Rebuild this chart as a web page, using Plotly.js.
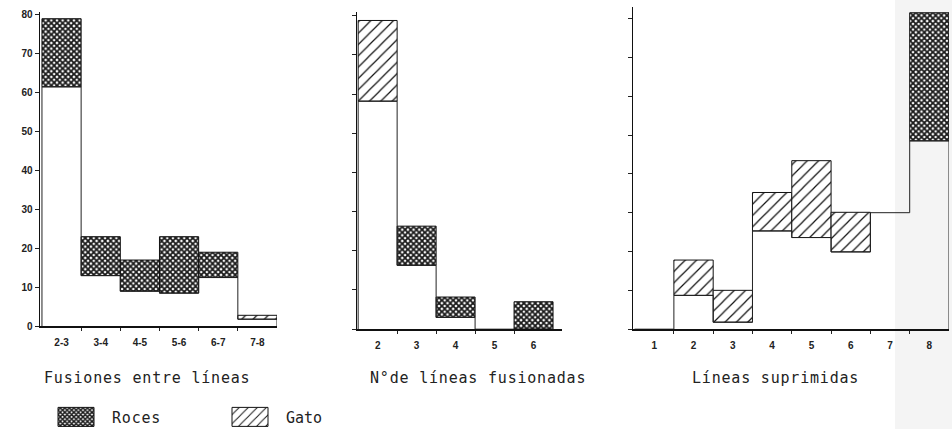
<!DOCTYPE html>
<html><head><meta charset="utf-8">
<script src="https://cdn.plot.ly/plotly-3.0.1.min.js"></script>
<style>
html,body{margin:0;padding:0;background:#fff;}
#chart{width:952px;height:434px;}
.annotation-text, .legendtext { letter-spacing: 0.8px; }
</style></head><body><div id="chart"></div>
<script>
// Panel 1: Fusiones entre líneas
const fusionesCats  = ['2-3','3-4','4-5','5-6','6-7','7-8'];
const fusionesRoces = [79, 23, 17, 23, 19, 1.8];
const fusionesGato  = [61.5, 13, 9, 8.5, 12.5, 2.8];
// Panel 2: N°de líneas fusionadas
const fusionadasCats  = ['2','3','4','5','6'];
const fusionadasRoces = [58.2, 26.3, 8.2, 0, 7];
const fusionadasGato  = [78.8, 16.3, 3, 0, 0];
// Panel 3: Líneas suprimidas
const suprimidasCats  = ['1','2','3','4','5','6','7','8'];
const suprimidasRoces = [0, 8.7, 1.8, 25.3, 23.6, 19.9, 30, 81.5];
const suprimidasGato  = [0, 17.8, 10, 35.2, 43.4, 30.1, 30, 48.5];
const yTickVals = [0,10,20,30,40,50,60,70,80];
const panelTitles = ['Fusiones entre líneas','N°de líneas fusionadas','Líneas suprimidas'];
const seriesNames = ['Roces','Gato'];

const W = 952, H = 434;
const px = v => v / W;
const py = v => (H - v) / H;

const rocesPattern = {shape: 'x', bgcolor: '#ffffff', fgcolor: '#1a1a1a', size: 4, solidity: 0.7};
const gatoPattern  = {shape: '/', bgcolor: '#ffffff', fgcolor: '#111111', size: 8, solidity: 0.15};

const traces = [];
function addPanel(n, cats, roces, gato) {
  const idx = cats.map((_, i) => i);
  const xa = n === 1 ? 'x' : 'x' + n, ya = n === 1 ? 'y' : 'y' + n;
  traces.push({
    type: 'bar', name: seriesNames[0], x: idx,
    base: idx.map(i => roces[i] > gato[i] ? gato[i] : null),
    y: idx.map(i => roces[i] > gato[i] ? roces[i] - gato[i] : null),
    width: 1, xaxis: xa, yaxis: ya,
    marker: {color: '#ffffff', pattern: rocesPattern, line: {color: '#111', width: 1}},
    showlegend: n === 1, legend: 'legend', legendgroup: 'r', hoverinfo: 'skip'
  });
  traces.push({
    type: 'bar', name: seriesNames[1], x: idx,
    base: idx.map(i => gato[i] > roces[i] ? roces[i] : null),
    y: idx.map(i => gato[i] > roces[i] ? gato[i] - roces[i] : null),
    width: 1, xaxis: xa, yaxis: ya,
    marker: {color: '#ffffff', pattern: gatoPattern, line: {color: '#111', width: 1}},
    showlegend: n === 1, legend: 'legend2', legendgroup: 'g', hoverinfo: 'skip'
  });
  // step outline following the lower of the two values
  const sx = [-0.5], sy = [0];
  idx.forEach(i => {
    const lo = Math.min(roces[i], gato[i]);
    sx.push(i - 0.5, i + 0.5); sy.push(lo, lo);
  });
  sx.push(cats.length - 0.5); sy.push(0);
  traces.push({type: 'scatter', mode: 'lines', x: sx, y: sy, xaxis: xa, yaxis: ya,
    line: {color: '#222', width: 1}, showlegend: false, hoverinfo: 'skip', cliponaxis: false});
}
addPanel(1, fusionesCats, fusionesRoces, fusionesGato);
addPanel(2, fusionadasCats, fusionadasRoces, fusionadasGato);
addPanel(3, suprimidasCats, suprimidasRoces, suprimidasGato);

const tickFont = {family: 'Liberation Sans, Arial, sans-serif', size: 10, color: '#222', weight: 'bold'};
function xAxis(cats, domain, range, anchor) {
  const idx = cats.map((_, i) => i);
  return {
    domain, range, anchor, showline: true, linecolor: '#111', linewidth: 1.5,
    showgrid: false, zeroline: false, fixedrange: true,
    tickmode: 'array', tickvals: idx, ticktext: cats, ticks: '', tickfont: tickFont,
    ticklabelstandoff: 6,
    minor: {tickmode: 'array', tickvals: idx.slice(1).map(i => i - 0.5), ticks: 'outside', ticklen: 3, tickcolor: '#222', tickwidth: 1, showgrid: false}
  };
}
function yAxis(domain, range, anchor, labels) {
  return {
    domain, range, anchor, showline: true, linecolor: '#111', linewidth: 1.5,
    showgrid: false, zeroline: false, fixedrange: true,
    tickmode: 'array', tickvals: yTickVals, ticks: 'outside', ticklen: 4, tickcolor: '#222',
    showticklabels: labels, tickfont: tickFont
  };
}

const monoFont = {family: 'DejaVu Sans Mono, monospace', size: 15, color: '#222'};
const layout = {
  width: W, height: H, margin: {l: 0, r: 0, t: 0, b: 0},
  paper_bgcolor: '#ffffff', plot_bgcolor: 'rgba(0,0,0,0)',
  barmode: 'overlay', showlegend: true,
  xaxis:  xAxis(fusionesCats,   [px(40),  px(277)], [-0.55, 5.5], 'y'),
  xaxis2: xAxis(fusionadasCats, [px(357), px(562)], [-0.53, 4.73], 'y2'),
  xaxis3: xAxis(suprimidasCats, [px(633), px(949)], [-0.54, 7.5], 'y3'),
  yaxis:  yAxis([py(330), py(12)], [0, 80.76], 'x', true),
  yaxis2: yAxis([py(333), py(12)], [0, 81], 'x2', false),
  yaxis3: yAxis([py(333), py(7)],  [0, 83], 'x3', false),
  legend:  {x: px(72),  y: py(422), xanchor: 'left', yanchor: 'middle', orientation: 'h', font: monoFont, bgcolor: 'rgba(0,0,0,0)'},
  legend2: {x: px(246), y: py(422), xanchor: 'left', yanchor: 'middle', orientation: 'h', font: monoFont, bgcolor: 'rgba(0,0,0,0)'},
  shapes: [{type: 'rect', xref: 'paper', yref: 'paper', x0: px(895), x1: 1, y0: 0, y1: 1,
            fillcolor: '#f4f4f4', line: {width: 0}, layer: 'below'}],
  annotations: [
    {text: panelTitles[0], x: px(147), y: py(382)},
    {text: panelTitles[1], x: px(478), y: py(382)},
    {text: panelTitles[2], x: px(775), y: py(382)}
  ].map(a => Object.assign(a, {xref: 'paper', yref: 'paper', xanchor: 'center', yanchor: 'middle', showarrow: false, font: monoFont}))
};
function widenLegend(gd) {
  // enlarge legend swatches (extending to the left of the label) like the wide boxes of the original key
  gd.querySelectorAll('.legendpoints path').forEach(p => p.setAttribute('d', 'M2,9.5H-34V-9.5H2Z'));
  gd.querySelectorAll('.infolayer [clip-path]').forEach(e => {
    if (e.closest('[class^="legend"]')) e.removeAttribute('clip-path');
  });
}
Plotly.newPlot('chart', traces, layout, {staticPlot: true, displayModeBar: false}).then(gd => {
  widenLegend(gd);
  requestAnimationFrame(() => widenLegend(gd));
});
</script></body></html>
